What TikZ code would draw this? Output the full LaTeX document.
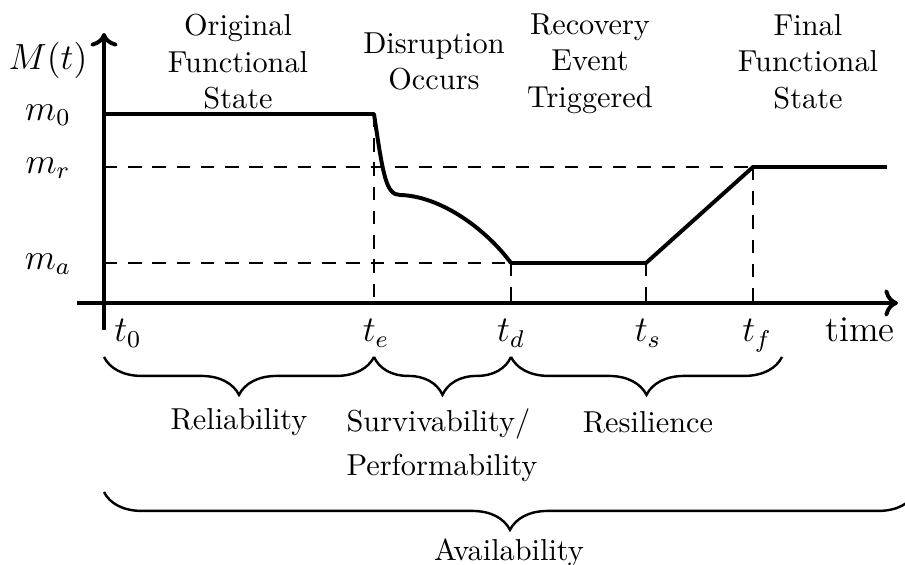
\documentclass[tikz,border=0pt]{standalone}
\usepackage{amsmath}
\usetikzlibrary{arrows.meta,decorations.pathreplacing}
\tikzset{
axis/.style={
line width=1.3pt,
-{To[length=4.5pt,width=9pt]}
},
curve/.style={
line width=1.3pt,
line join=round
},
guide/.style={
thin,
dash pattern=on 4.4pt off 3.6pt
},
span/.style={
thick,
decorate,
decoration={brace,mirror,amplitude=12.5pt}
},
state/.style={
align=center,
anchor=north,
inner sep=0pt
},
tick/.style={
anchor=base,
font=\large
},
level/.style={
anchor=mid,
font=\large
}
}

\begin{document}
\begin{tikzpicture}[x=0.33pt,y=-0.33pt]
\clip (0,0) rectangle (905,565);

% axes
\coordinate (o) at (104,303);
\coordinate (ylow) at (104,330);
\coordinate (ytop) at (104,33);
\coordinate (xlow) at (77,303);
\coordinate (xend) at (898,303);
\draw[axis] (ylow) -- (ytop);
\draw[axis] (xlow) -- (xend);

% points of M(t)
\coordinate (a0) at (104,114);
\coordinate (ar) at (104,167);
\coordinate (aa) at (104,263);
\coordinate (e) at (374,114);
\coordinate (k) at (400,195);
\coordinate (d) at (511,263);
\coordinate (s) at (646,263);
\coordinate (f) at (753,167);
\coordinate (r) at (887,167);

% dashed guides
\draw[guide] (ar) -- (f);
\draw[guide] (aa) -- (d);
\foreach \p in {e,d,s,f}
\draw[guide] (\p) -- (\p |- o);

% M(t)
\draw[curve] (a0) -- (e) .. controls (383,175) and (386,195) .. (k)
.. controls (440,196) and (485,228) .. (d) -- (s) -- (f) -- (r);

% axis labels
\node[tick] (mt) at (48,70) {$M(t)$};
\node[level] (m0) at (48,114) {$m_0$};
\node[level] (mr) at (48,167) {$m_r$};
\node[level] (ma) at (48,263) {$m_a$};
\foreach \n/\x/\t in {l0/128/t_0,le/376/t_e,ld/511/t_d,ls/648/t_s,lf/757/t_f}
\node[tick] (\n) at (\x,342) {$\t$};
\node[tick] (time) at (860,342) {time};

% states
\node[state] (orig) at (238,14) {Original\\Functional\\State};
\node[state] (dis) at (434,32) {Disruption\\Occurs};
\node[state] (rec) at (590,13) {Recovery\\Event\\Triggered};
\node[state] (fin) at (808,14) {Final\\Functional\\State};

% braces
\coordinate (b0) at (104,357);
\coordinate (be) at (374,357);
\coordinate (bd) at (511,357);
\coordinate (bf) at (782,357);
\coordinate (c0) at (104,492);
\coordinate (cf) at (916,492);
\draw[span] (b0) -- (be);
\draw[span] (be) -- (bd);
\draw[span] (bd) -- (bf);
\draw[span] (c0) -- (cf);

\node[state] (rel) at (239,408) {Reliability};
\node[state,align=left] (sur) at (442,408) {Survivability/\\[2.5pt]Performability};
\node[state] (res) at (648,411) {Resilience};
\node[state] (ava) at (509,538) {Availability};
\end{tikzpicture}
\end{document}
